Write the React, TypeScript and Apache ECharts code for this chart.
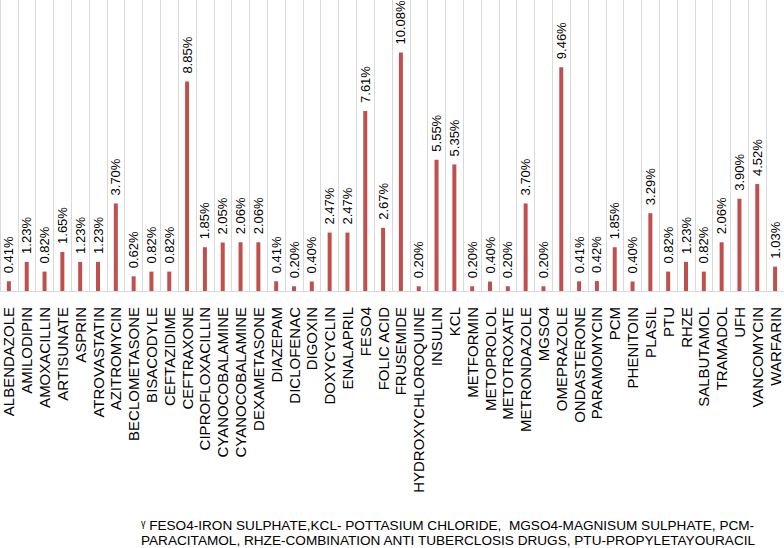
import React, { useEffect, useRef } from "react";
import * as echarts from "echarts";

const categories = [
  "ALBENDAZOLE", "AMILODIPIN", "AMOXACILLIN", "ARTISUNATE", "ASPRIN", "ATROVASTATIN",
  "AZITROMYCIN", "BECLOMETASONE", "BISACODYLE", "CEFTAZIDIME", "CEFTRAXONE",
  "CIPROFLOXACILLIN", "CYANOCOBALAMINE", "CYANOCOBALAMINE", "DEXAMETASONE", "DIAZEPAM",
  "DICLOFENAC", "DIGOXIN", "DOXYCYCLIN", "ENALAPRIL", "FESO4", "FOLIC ACID", "FRUSEMIDE",
  "HYDROXYCHLOROQUINE", "INSULIN", "KCL", "METFORMIN", "METOPROLOL", "METOTROXATE",
  "METRONDAZOLE", "MGSO4", "OMEPRAZOLE", "ONDASTERONE", "PARAMOMYCIN", "PCM", "PHENITOIN",
  "PLASIL", "PTU", "RHZE", "SALBUTAMOL", "TRAMADOL", "UFH", "VANCOMYCIN", "WARFARIN",
];

const values = [
  0.41, 1.23, 0.82, 1.65, 1.23, 1.23, 3.7, 0.62, 0.82, 0.82, 8.85, 1.85, 2.05, 2.06, 2.06,
  0.41, 0.2, 0.4, 2.47, 2.47, 7.61, 2.67, 10.08, 0.2, 5.55, 5.35, 0.2, 0.4, 0.2, 3.7, 0.2,
  9.46, 0.41, 0.42, 1.85, 0.4, 3.29, 0.82, 1.23, 0.82, 2.06, 3.9, 4.52, 1.03,
];

const footnoteLines = [
  "ᵞ FESO4-IRON SULPHATE,KCL- POTTASIUM CHLORIDE,  MGSO4-MAGNISUM SULPHATE, PCM-",
  "PARACITAMOL, RHZE-COMBINATION ANTI TUBERCLOSIS DRUGS, PTU-PROPYLETAYOURACIL",
];

export default function App() {
  const ref = useRef<HTMLDivElement>(null);
  useEffect(() => {
    if (!ref.current) return;
    const chart = echarts.init(ref.current, null, { renderer: "svg" });
    chart.setOption({
      animation: false,
      backgroundColor: "#ffffff",
      textStyle: { fontFamily: "Arial" },
      grid: { left: 0, right: 0, top: 0, bottom: 257, containLabel: false, outerBoundsMode: "none" },
      xAxis: {
        type: "category",
        data: categories,
        boundaryGap: true,
        axisLine: { show: true, lineStyle: { color: "#d9d9d9", width: 1 } },
        axisTick: { show: false },
        splitLine: { show: true, interval: 0, lineStyle: { color: "#d9d9d9", width: 1 } },
        axisLabel: {
          interval: 0,
          rotate: 90,
          margin: 16,
          fontSize: 15,
          color: "#000",
          fontFamily: "Arial",
          hideOverlap: false,
          formatter: (v: string) => `{a|${v}}`,
          rich: { a: { fontSize: 15, color: "#000", fontFamily: "Arial" } },
        },
      },
      yAxis: {
        type: "value",
        min: 0,
        max: 12.3,
        show: false,
        splitLine: { show: false },
      },
      series: [
        {
          type: "bar",
          data: values,
          barWidth: 4,
          itemStyle: { color: "#c0504d" },
          label: {
            show: true,
            position: "top",
            rotate: 90,
            align: "left",
            verticalAlign: "middle",
            distance: 8,
            fontSize: 13,
            color: "#000",
            fontFamily: "Arial",
            formatter: (p: any) => `{v|${Number(p.value).toFixed(2)}%}`,
            rich: { v: { fontSize: 13, color: "#000", fontFamily: "Arial" } },
          },
        },
      ],
      graphic: footnoteLines.map((t, i) => ({
        type: "text",
        left: 141,
        top: 518 + i * 15,
        style: {
          text: t,
          fontSize: 13.6,
          fill: "#000",
          fontFamily: "Arial",
        },
      })),
    });
    return () => chart.dispose();
  }, []);
  return (
    <div
      ref={ref}
      style={{ position: "fixed", left: 0, top: 0, width: 784, height: 548 }}
    />
  );
}
